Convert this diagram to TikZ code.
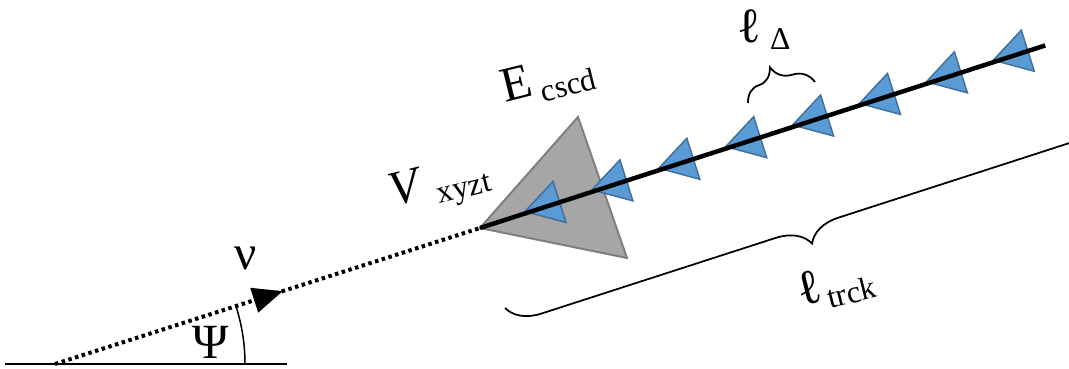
\documentclass[tikz,border=0pt]{standalone}
\usepackage{fontspec}
\setmainfont{Liberation Serif}[ItalicFont={Liberation Serif Italic}]
\usepackage{xcolor}
\usetikzlibrary{arrows.meta,calc,decorations.pathreplacing,decorations.markings}

\definecolor{cascfill}{HTML}{A6A6A6}
\definecolor{cascline}{HTML}{7F7F7F}
\definecolor{hitfill}{HTML}{5B9BD5}
\definecolor{hitline}{HTML}{41719C}
\newcommand{\subtxt}{\fontsize{18}{20}\selectfont}

\begin{document}
\begin{tikzpicture}[x=0.2mm, y=0.2mm, >=Latex,
  lbl/.style={inner sep=0pt, font=\fontsize{28}{32}\selectfont},
  hit/.style={draw=hitline, fill=hitfill, line width=0.3mm},
  casc/.style={draw=cascline, fill=cascfill, line width=0.4mm},
  trk/.style={line width=0.9mm},
  nuline/.style={line width=0.8mm, dash pattern=on 0.7mm off 0.7mm},
  brc/.style={decorate, line width=0.35mm}]
  \useasboundingbox (0,0) rectangle (1069,368);
  \clip (0,0) rectangle (1069,368);

  \coordinate (o) at (55,4);
  \coordinate (vtx) at (480,140);
  \coordinate (tend) at ($(vtx)+(17.9:594)$);
  \coordinate (b0) at (5,4);
  \coordinate (b1) at (287,4);

  % ground line and zenith angle
  \draw[line width=0.4mm] (b0) -- (b1);
  \draw[line width=0.3mm] ($(o)+(190,0)$) arc[start angle=0, end angle=17.75, radius=190];

  % incoming neutrino
  \draw[nuline, postaction={decorate}, decoration={markings,
    mark=at position 0.536 with {\arrow{Triangle[length=6mm,width=5mm]}}}]
    (o) -- (vtx);

  % cascade
  \coordinate (ctop) at (578,251);
  \coordinate (cbot) at (627,110);
  \draw[casc] (vtx) -- (ctop) -- (cbot) -- cycle;

  % hits along the track
  \foreach \k in {0,...,7}{
    \coordinate (h\k) at ($(vtx)+(17.9:{47.3+70.3*\k})+(0,2)$);
    \draw[hit] (h\k) -- ++(28,30) -- ++(13,-41) -- cycle;
  }
  \draw[trk] (vtx) -- (tend);

  % braces
  \coordinate (dl) at (748,265);
  \coordinate (dr) at (815,286);
  \draw[brc, decoration={brace, amplitude=5.5mm, aspect=0.45}] (dl) -- (dr);
  \coordinate (tl) at (505,60);
  \coordinate (tr) at ($(tl)+(17.9:624)$);
  \draw[brc, decoration={brace, amplitude=6.6mm}] (tr) -- (tl);

  % labels
  \node[lbl] (ldelta) at (764,338) {ℓ\hspace{5pt}\raisebox{-4pt}{\subtxt Δ}};
  \node[lbl, rotate=14] (ltrck) at (836,82) {ℓ\hspace{2pt}\raisebox{-5pt}{\subtxt trck}};
  \node[lbl, rotate=14] (ecscd) at (548,288) {E\hspace{4pt}\raisebox{-5pt}{\subtxt cscd}};
  \node[lbl, rotate=14] (vxyzt) at (440,182) {\textit{V}\hspace{6pt}\raisebox{-5pt}{\subtxt xyzt}};
  \node[lbl] (nu) at (246,110) {ν};
  \node[lbl] (psi) at (211,26) {Ψ};
\end{tikzpicture}
\end{document}
